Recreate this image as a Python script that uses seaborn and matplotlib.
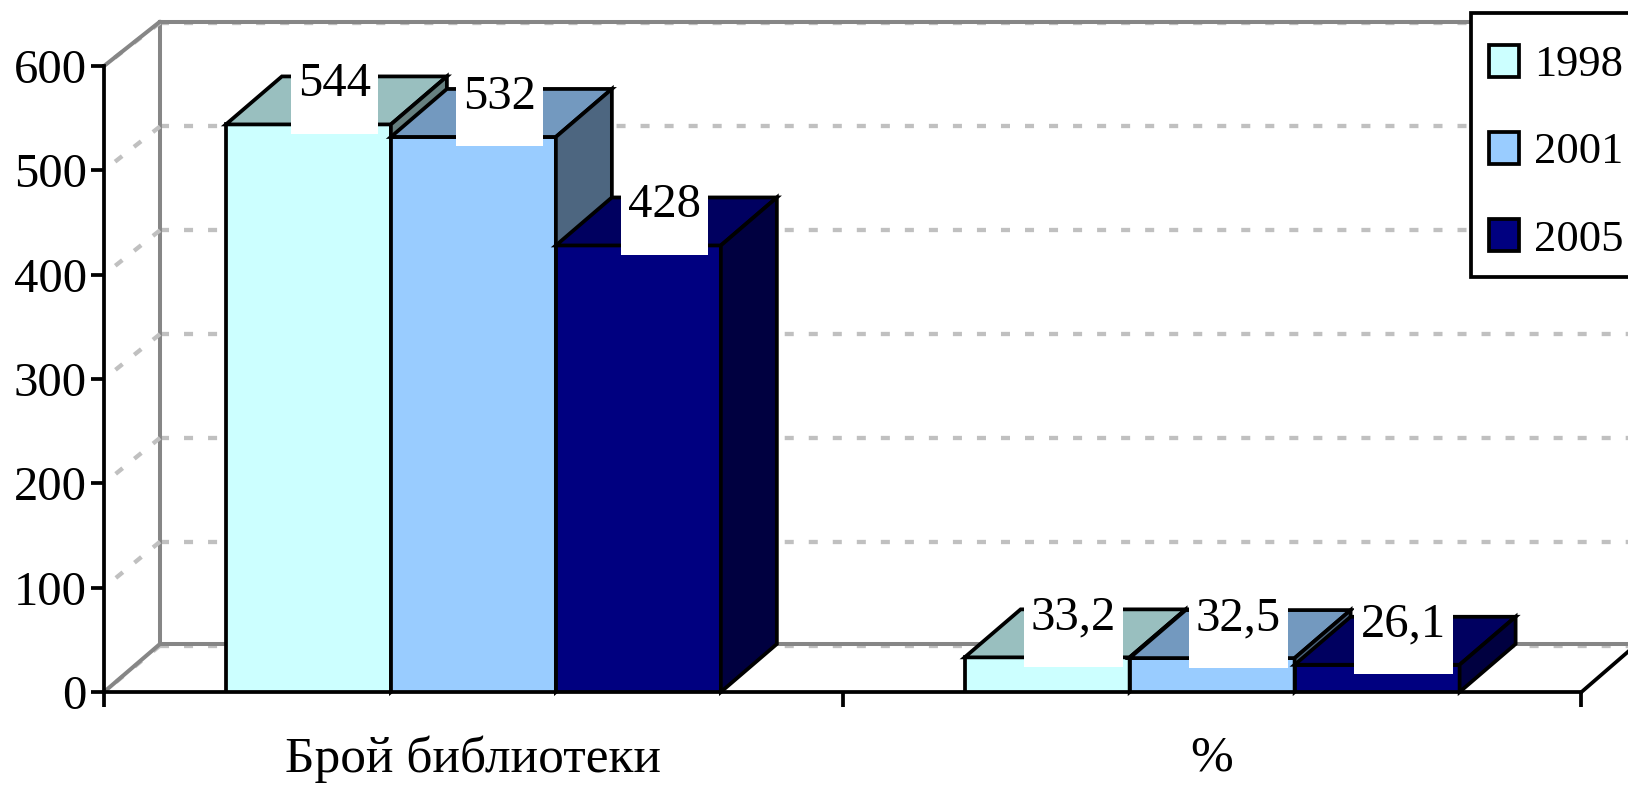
import matplotlib
matplotlib.use('Agg')
import matplotlib.pyplot as plt
import seaborn as sns
import pandas as pd
from matplotlib.patches import ConnectionPatch, Polygon, Rectangle
from matplotlib.transforms import Affine2D, IdentityTransform
from matplotlib.colors import to_rgb

# Datos
categorias = ['Брой библиотеки', '%']
anios = ['1998', '2001', '2005']
valores_1998 = [544, 33.2]
valores_2001 = [532, 32.5]
valores_2005 = [428, 26.1]
colores = ['#CCFFFF', '#99CCFF', '#000080']
ticks_y = [0, 100, 200, 300, 400, 500, 600]

W, H = 1628, 786
PROF_X, PROF_Y = 56, 48  # profundidad de las barras en pixeles
NEGRO = 2.7
GRIS = '#868686'
GRIS_CLARO = '#C0C0C0'

sns.set_style('white')
plt.rcParams['font.family'] = ['Liberation Serif', 'DejaVu Serif']
plt.rcParams['lines.scale_dashes'] = False
plt.rcParams['text.color'] = 'black'


def caja(izq, arriba, der, abajo):
    return [izq / W, 1 - abajo / H, (der - izq) / W, (abajo - arriba) / H]


df = pd.DataFrame({
    'categoria': categorias * 3,
    'anio': [a for a in anios for _ in categorias],
    'valor': valores_1998 + valores_2001 + valores_2005,
})

fig = plt.figure(figsize=(W / 100, H / 100), dpi=100)

# Pared del fondo
ax_f = fig.add_axes(caja(160, 17.5, 1637, 650.7), zorder=0)
ax_f.set_xlim(-0.5, 1.5)
ax_f.set_ylim(-5, 605)
ax_f.set_xticks([])
ax_f.set_yticks(ticks_y)
ax_f.tick_params(left=False, labelleft=False)
ax_f.grid(axis='y', color=GRIS_CLARO, lw=3.1, ls=(0, (6.5, 10.8)), dash_capstyle='butt')
ax_f.set_axisbelow(True)
for lado in ['top', 'bottom', 'left']:
    ax_f.spines[lado].set_color(GRIS)
    ax_f.spines[lado].set_linewidth(2.9)
ax_f.spines['right'].set_visible(False)
ax_f.spines['top'].set_position(('data', 601))
ax_f.spines['bottom'].set_position(('data', 1.5))
ax_f.spines['left'].set_bounds(1.5, 601)

# Barras frontales
ax = fig.add_axes(caja(104, 66, 1581.5, 692), zorder=1)
ax.patch.set_alpha(0)
sns.barplot(data=df, x='categoria', y='valor', hue='anio', palette=colores, width=0.67,
            gap=0, saturation=1, edgecolor='black', linewidth=NEGRO, legend=False, ax=ax)
ax.set_xlim(-0.5, 1.5)
ax.set_ylim(0, 600)
ax.set_xlabel('')
ax.set_ylabel('')
ax.set_yticks(ticks_y)
ax.set_xticks([-0.5, 0.5, 1.5], minor=True)
ax.tick_params(axis='x', which='major', length=0, pad=31, labelsize=37, labelcolor='black')
ax.tick_params(axis='x', which='minor', length=11, width=NEGRO, color='black', bottom=True)
ax.tick_params(axis='y', length=9.5, width=NEGRO, color='black', left=True, pad=3, labelsize=35,
               labelcolor='black')
for lado in ['left', 'bottom']:
    ax.spines[lado].set_color('black')
    ax.spines[lado].set_linewidth(NEGRO)
for lado in ['top', 'right']:
    ax.spines[lado].set_visible(False)

# Caras superior y lateral de cada barra
desplazado = ax.transData + Affine2D().translate(PROF_X, PROF_Y)
renderer = fig.canvas.get_renderer()
etiquetas = []
for i, barras in enumerate(ax.containers):
    z = 3 + i * 0.1
    r, g, b = to_rgb(colores[i])
    for barra in barras:
        barra.set_zorder(z)
        x0, x1 = barra.get_x(), barra.get_x() + barra.get_width()
        alto = barra.get_height()
        a = ax.transData.transform
        d = desplazado.transform
        arriba = [a((x0, alto)), a((x1, alto)), d((x1, alto)), d((x0, alto))]
        lateral = [a((x1, 0)), d((x1, 0)), d((x1, alto)), a((x1, alto))]
        for puntos, f in [(arriba, 0.75), (lateral, 0.5)]:
            ax.add_artist(Polygon(puntos, closed=True, transform=IdentityTransform(),
                                  facecolor=(r * f, g * f, b * f), edgecolor='black',
                                  lw=NEGRO, joinstyle='miter', zorder=z, clip_on=False))
        etiquetas.append((barra.get_x() + barra.get_width() / 2, alto))

# Etiquetas de valor sobre un recuadro blanco
for x, alto in etiquetas:
    texto = f'{alto:g}'.replace('.', ',')
    t = ax.annotate(texto, xy=(x, alto), xytext=(26, 40), textcoords='offset pixels',
                    ha='center', va='center', fontsize=35, zorder=11, annotation_clip=False)
    ext = t.get_window_extent(renderer)
    base = ax.transData.transform((x, alto))[1] - 9.5
    ax.add_artist(Rectangle((ext.x0 - 7, base), ext.width + 14, ext.y1 + 6 - base,
                            transform=IdentityTransform(), facecolor='white',
                            edgecolor='none', zorder=10, clip_on=False))

# Pared lateral: diagonales entre el eje y el fondo
for v in ticks_y:
    fig.add_artist(ConnectionPatch((-0.5, v), (-0.5, v), coordsA=ax_f.transData, coordsB=ax.transData,
                                   color=GRIS_CLARO, lw=3.1, ls=(0, (6.5, 10.8)), capstyle='butt', zorder=0.5))
for v_f, v in [(1.5, 0), (601, 600)]:
    fig.add_artist(ConnectionPatch((-0.5, v_f), (-0.5, v), coordsA=ax_f.transData, coordsB=ax.transData,
                                   color=GRIS, lw=2.9, zorder=0.6))
fig.add_artist(ConnectionPatch((1.5, 0), (1.5, 1.5), coordsA=ax.transData, coordsB=ax_f.transData,
                               color='black', lw=NEGRO, zorder=2))

# Leyenda: recuadro aparte porque sale por el borde derecho
fig.add_artist(Rectangle((1471 / W, 1 - 277 / H), 200 / W, 264 / H, transform=fig.transFigure,
                         facecolor='white', edgecolor='black', lw=NEGRO, zorder=3))
leyenda = fig.legend(ax.containers, anios, loc='upper left', bbox_to_anchor=(1489 / W, 1 - 44.5 / H),
                     bbox_transform=fig.transFigure, borderaxespad=0, fontsize=32, frameon=False,
                     borderpad=0, handlelength=0.68, handleheight=0.74, handletextpad=0.33,
                     labelspacing=1.05)
leyenda.set_zorder(4)

fig.savefig('out.png', dpi=100)
